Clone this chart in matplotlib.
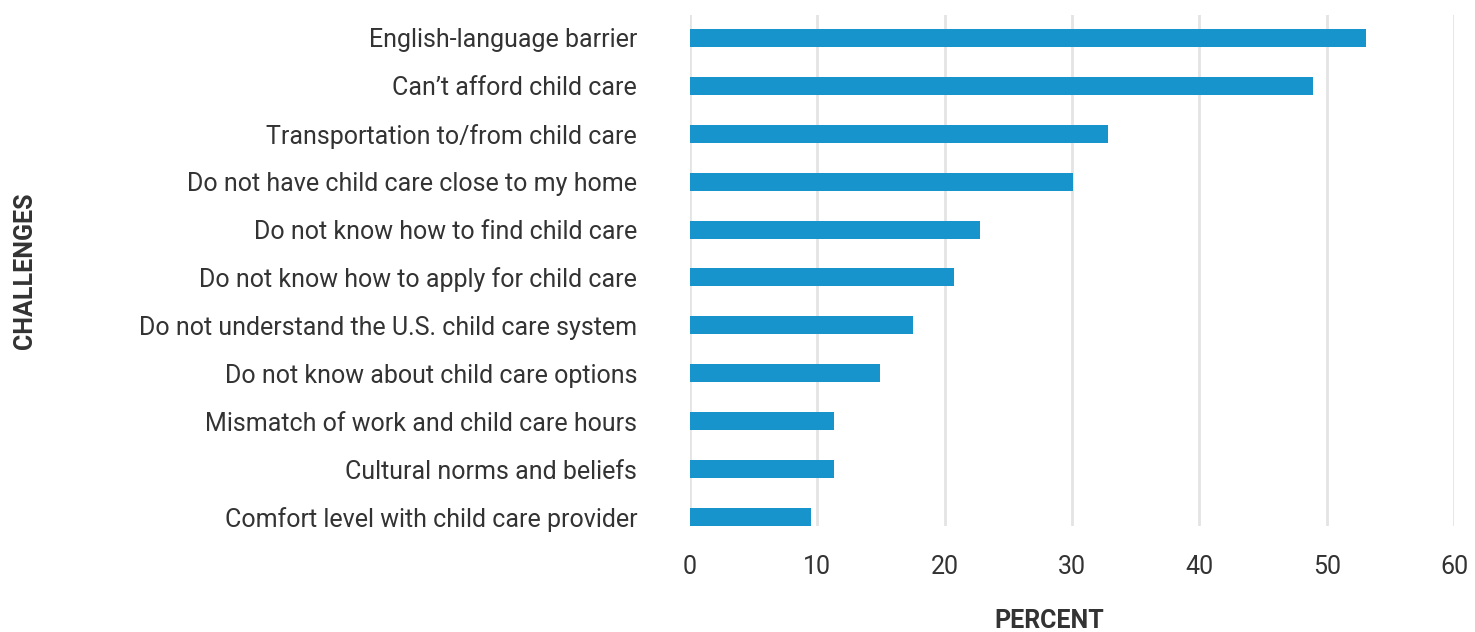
#!/usr/bin/env python3
"""Child care challenges - horizontal bar chart"""
import matplotlib
matplotlib.use('Agg')
import matplotlib.pyplot as plt
import numpy as np

challenges = [
    'English-language barrier',
    'Can\u2019t afford child care',
    'Transportation to/from child care',
    'Do not have child care close to my home',
    'Do not know how to find child care',
    'Do not know how to apply for child care',
    'Do not understand the U.S. child care system',
    'Do not know about child care options',
    'Mismatch of work and child care hours',
    'Cultural norms and beliefs',
    'Comfort level with child care provider',
]
percent = [53.1, 48.9, 32.8, 30.1, 22.8, 20.7, 17.5, 14.9, 11.3, 11.3, 9.5]
x_ticks = [0, 10, 20, 30, 40, 50, 60]

BAR_COLOR = '#1794cc'
TEXT_COLOR = '#333333'

plt.rcParams['font.family'] = ['Roboto', 'DejaVu Sans']

fig = plt.figure(figsize=(14.75, 6.32), dpi=100)
ax = fig.add_axes([690 / 1475, 1 - 526 / 632, (1454 - 690) / 1475, (526 - 15) / 632])

y = np.arange(len(challenges))
ax.barh(y, percent, height=0.375, color=BAR_COLOR, zorder=3)

ax.set_xlim(0, 60)
ax.set_ylim(10.19, -0.48)
ax.set_xticks(x_ticks)
ax.set_xticklabels([str(t) for t in x_ticks], fontsize=18, color=TEXT_COLOR)
ax.set_yticks(y)
ax.set_yticklabels(challenges, fontsize=18, color=TEXT_COLOR)

ax.tick_params(axis='both', length=0)
ax.tick_params(axis='y', pad=38)
ax.tick_params(axis='x', pad=21)

ax.grid(True, axis='x', color='#e4e4e4', linewidth=2, zorder=0)
for s in ax.spines.values():
    s.set_visible(False)

fig.text(1049 / 1475, 1 - 621 / 632, 'PERCENT', fontsize=18, fontweight='bold',
         color=TEXT_COLOR, ha='center', va='center')
fig.text(25 / 1475, 1 - 271 / 632, 'CHALLENGES', rotation=90, fontsize=18,
         fontweight='bold', color=TEXT_COLOR, ha='center', va='center')

fig.savefig('out.png', dpi=100)
plt.close(fig)
